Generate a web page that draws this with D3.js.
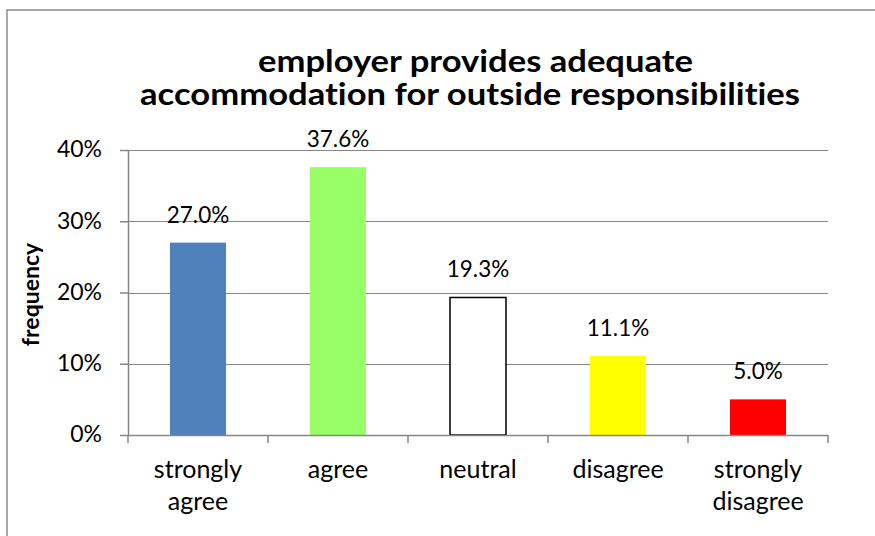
<!DOCTYPE html>
<html>
<head>
<meta charset="utf-8">
<script src="https://cdn.jsdelivr.net/npm/d3@7"></script>
<style>
  html, body { margin: 0; padding: 0; background: #fff; }
  svg { display: block; }
  text { font-family: Lato, "Liberation Sans", sans-serif; fill: #000; font-variant-ligatures: none; }
</style>
</head>
<body>
<svg id="chart" width="875" height="536"></svg>
<script>
// Survey responses: share of respondents per answer
const categories = ["strongly agree", "agree", "neutral", "disagree", "strongly disagree"];
const categoryLines = [["strongly", "agree"], ["agree"], ["neutral"], ["disagree"], ["strongly", "disagree"]];
const frequency = [0.270, 0.376, 0.193, 0.111, 0.050];
const barColors = ["#4F81BD", "#99FF66", "#FFFFFF", "#FFFF00", "#FF0000"];
const yTicks = [0, 0.1, 0.2, 0.3, 0.4];
const titleLines = ["employer provides adequate", "accommodation for outside responsibilities"];

const W = 875, H = 536;
const plot = { left: 128, right: 828, top: 150, bottom: 435 };
const gridColor = "#868686";

const svg = d3.select("#chart");

// outer chart frame (right and bottom edges fall outside the view)
svg.append("rect")
  .attr("x", 7).attr("y", 10)
  .attr("width", W).attr("height", H)
  .attr("fill", "#fff")
  .attr("stroke", "#8c8c8c")
  .attr("stroke-width", 1.5);

const x = d3.scaleBand()
  .domain(categories)
  .range([plot.left, plot.right])
  .paddingInner(0.6)
  .paddingOuter(0.3);

const y = d3.scaleLinear()
  .domain([0, 0.4])
  .range([plot.bottom, plot.top]);

const pct1 = d3.format(".1%");
const pct0 = d3.format(".0%");

// horizontal gridlines
svg.append("g")
  .selectAll("line")
  .data(yTicks.filter(d => d > 0))
  .join("line")
  .attr("x1", plot.left).attr("x2", plot.right)
  .attr("y1", d => Math.round(y(d)) + 0.5).attr("y2", d => Math.round(y(d)) + 0.5)
  .attr("stroke", gridColor).attr("stroke-width", 1.2);

// bars
svg.append("g")
  .selectAll("rect")
  .data(frequency)
  .join("rect")
  .attr("x", (d, i) => x(categories[i]))
  .attr("y", d => y(d))
  .attr("width", x.bandwidth())
  .attr("height", d => y(0) - y(d))
  .attr("fill", (d, i) => barColors[i])
  .attr("stroke", (d, i) => barColors[i] === "#FFFFFF" ? "#000" : "none")
  .attr("stroke-width", 1.5);

// y axis
const yAxis = svg.append("g")
  .attr("transform", `translate(${plot.left},0)`)
  .call(d3.axisLeft(y).tickValues(yTicks).tickFormat(pct0).tickSize(8).tickSizeOuter(0).tickPadding(18));
yAxis.select(".domain").attr("stroke", gridColor).attr("stroke-width", 1.5);
yAxis.selectAll(".tick line").attr("stroke", gridColor).attr("stroke-width", 1.5);
yAxis.selectAll(".tick text")
  .attr("font-size", 23)
  .attr("font-family", "Lato, sans-serif")
  .attr("fill", "#000")
  .attr("dy", "0.3em");

// x axis: ticks at band boundaries
const xAxisG = svg.append("g");
xAxisG.append("line")
  .attr("x1", plot.left).attr("x2", plot.right)
  .attr("y1", plot.bottom + 0.5).attr("y2", plot.bottom + 0.5)
  .attr("stroke", gridColor).attr("stroke-width", 1.5);
const step = x.step();
const boundaries = categories.map(c => x(c) - x.paddingInner() * step / 2);
boundaries.push(boundaries[boundaries.length - 1] + step);
xAxisG.selectAll("line.tick")
  .data(boundaries)
  .join("line")
  .attr("class", "tick")
  .attr("x1", d => d).attr("x2", d => d)
  .attr("y1", plot.bottom).attr("y2", plot.bottom + 8)
  .attr("stroke", gridColor).attr("stroke-width", 1.5);

// category labels
const catG = svg.append("g");
categoryLines.forEach((lines, i) => {
  const cx = x(categories[i]) + x.bandwidth() / 2;
  const t = catG.append("text")
    .attr("text-anchor", "middle")
    .attr("font-size", 25)
    .attr("x", cx).attr("y", 478);
  lines.forEach((ln, j) => {
    t.append("tspan").attr("x", cx).attr("dy", j === 0 ? 0 : 32).text(ln);
  });
});

// value labels above bars
svg.append("g")
  .selectAll("text")
  .data(frequency)
  .join("text")
  .attr("text-anchor", "middle")
  .attr("font-size", 22.5)
  .attr("x", (d, i) => x(categories[i]) + x.bandwidth() / 2)
  .attr("y", d => y(d) - 20)
  .text(d => pct1(d));

// y axis title
svg.append("text")
  .attr("transform", `translate(39,${(plot.top + plot.bottom) / 2 + 2}) rotate(-90)`)
  .attr("text-anchor", "middle")
  .attr("font-size", 23)
  .attr("font-weight", 700)
  .text("frequency");

// chart title, each line fitted to its width
const title = svg.append("text")
  .attr("text-anchor", "middle")
  .attr("font-size", 31)
  .attr("font-weight", 700);
title.append("tspan").attr("x", 475.5).attr("y", 72)
  .attr("textLength", 435).attr("lengthAdjust", "spacingAndGlyphs").text(titleLines[0]);
title.append("tspan").attr("x", 470).attr("y", 105)
  .attr("textLength", 660).attr("lengthAdjust", "spacingAndGlyphs").text(titleLines[1]);
</script>
</body>
</html>
